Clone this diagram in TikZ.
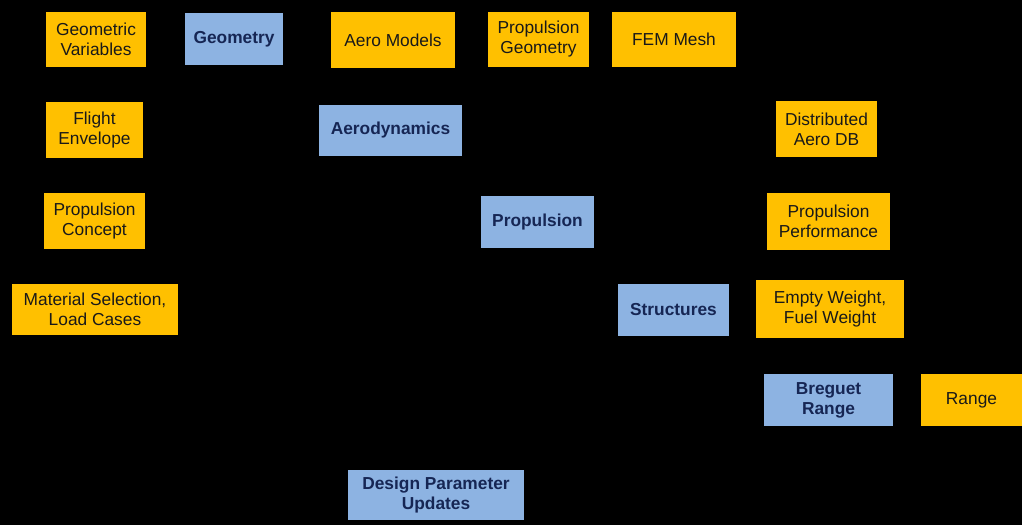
\documentclass[tikz,border=0pt]{standalone}
\usepackage{fontspec}
\setmainfont{Liberation Sans}
\usepackage{tikz}
\usetikzlibrary{calc}

\definecolor{dataorange}{RGB}{255,192,0}
\definecolor{toolblue}{RGB}{141,179,226}
\definecolor{tooltext}{RGB}{22,38,84}

\begin{document}
\begin{tikzpicture}[x=0.75pt,y=-0.75pt,
        every node/.style={inner sep=0pt, align=center, font=\fontsize{13}{15}\selectfont},
        datab/.style={fill=dataorange, text=black!90},
        toolb/.style={fill=toolblue, text=tooltext, font=\fontsize{13}{15}\selectfont\bfseries}]
        \fill [black] (0,0) rectangle (1022,525);
        % first row
        \node [datab, minimum width=75pt, minimum height=41.25pt] (gvar) at (96,39.5) {Geometric\\Variables};
        \node [toolb, minimum width=73.5pt, minimum height=39pt] (geom) at (234,39) {Geometry};
        \node [datab, minimum width=93pt, minimum height=42pt] (aeromod) at (393,40) {Aero Models};
        \node [datab, minimum width=75.75pt, minimum height=41.25pt] (propgeom) at (538.5,39.5) {Propulsion\\Geometry};
        \node [datab, minimum width=93pt, minimum height=41.25pt] (fem) at (674,39.5) {FEM Mesh};
        % second row
        \node [datab, minimum width=72.75pt, minimum height=42pt] (flight) at (94.5,130) {Flight\\Envelope};
        \node [toolb, minimum width=107.25pt, minimum height=38.25pt] (aero) at (390.5,130.5) {Aerodynamics};
        \node [datab, minimum width=75.75pt, minimum height=42pt] (aerodb) at (826.5,129) {Distributed\\Aero DB};
        % third row
        \node [datab, minimum width=75.75pt, minimum height=42pt] (propcon) at (94.5,221) {Propulsion\\Concept};
        \node [toolb, minimum width=84.75pt, minimum height=39pt] (prop) at (537.5,222) {Propulsion};
        \node [datab, minimum width=92.25pt, minimum height=42.75pt] (propperf) at (828.5,221.5) {Propulsion\\Performance};
        % fourth row
        \node [datab, minimum width=124.5pt, minimum height=38.25pt] (matsel) at (95,309.5) {Material Selection,\\Load Cases};
        \node [toolb, minimum width=83.25pt, minimum height=39pt] (struct) at (673.5,310) {Structures};
        \node [datab, minimum width=111pt, minimum height=43.5pt] (weight) at (830,309) {Empty Weight,\\Fuel Weight};
        % range
        \node [toolb, minimum width=96.75pt, minimum height=39pt] (breguet) at (828.5,400) {Breguet\\Range};
        \node [datab, minimum width=75.75pt, minimum height=39pt] (range) at (971.5,400) {Range};
        % driver
        \node [toolb, minimum width=132pt, minimum height=37.5pt] (dpu) at (436,495) {Design Parameter\\Updates};
\end{tikzpicture}
\end{document}
